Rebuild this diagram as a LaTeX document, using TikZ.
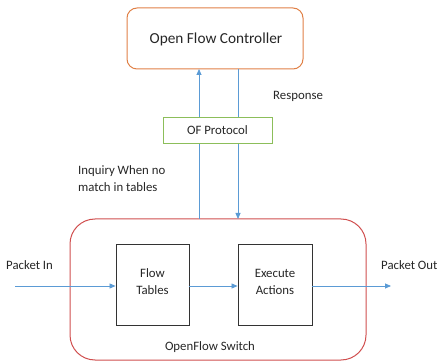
\documentclass[tikz,border=0pt]{standalone}
\usepackage{fontspec}
\setmainfont{Carlito}
\usetikzlibrary{arrows.meta}
\definecolor{ctrl}{RGB}{224,128,70}
\definecolor{proto}{RGB}{140,190,90}
\definecolor{sw}{RGB}{208,78,78}
\definecolor{flow}{RGB}{91,155,213}
\begin{document}
\begin{tikzpicture}[x=1pt,y=-1pt,
  lbl/.style={font=\fontsize{12.8}{15}\selectfont, text=black!85},
  blk/.style={draw=black!80, line width=0.9pt, fill=white},
  conn/.style={draw=flow, line width=0.8pt, -{Triangle[length=6pt,width=5pt]}}]
\useasboundingbox (0,0) rectangle (439,363);
% boxes
\draw[ctrl, line width=1pt, rounded corners=10pt] (127,8) rectangle (303,69);
\node[font=\fontsize{15.3}{18}\selectfont, text=black!85] (ctrl) at (216,39) {Open Flow Controller};
\coordinate (cb1) at (199,69);
\coordinate (cb2) at (238,69);
\draw[sw, line width=1pt, rounded corners=25pt] (70,219) rectangle (366,360);
\coordinate (st1) at (199,219);
\coordinate (st2) at (238,219);
% vertical arrows
\draw[conn] (st1) -- (cb1);
\draw[conn] (cb2) -- (st2);
\node[draw=proto, line width=0.9pt, fill=white, minimum width=109pt, minimum height=26pt, inner sep=0pt, lbl] (of) at (217.5,130) {OF Protocol};
\node[lbl, anchor=west, inner sep=0pt] (resp) at (273,96) {Response};
\node[lbl, anchor=west, align=left, inner sep=0pt] (inq) at (78,178.5) {Inquiry When no\\[2pt]match in tables};
% inner blocks
\node[blk, minimum width=73pt, minimum height=81pt, inner sep=0pt] (ft) at (152.5,284.5) {};
\node[blk, minimum width=74pt, minimum height=81pt, inner sep=0pt] (ea) at (275,284.5) {};
\node[lbl, align=center, inner sep=0pt] (ftl) at (152.5,281.5) {Flow\\[2pt]Tables};
\node[lbl, align=center, inner sep=0pt] (eal) at (275,281.5) {Execute\\[2pt]Actions};
\node[lbl] (sw) at (210,347) {OpenFlow Switch};
\node[lbl, anchor=west, inner sep=0pt] (pin) at (6,265) {Packet In};
\node[lbl, anchor=west, inner sep=0pt] (pout) at (381,265) {Packet Out};
\coordinate (inS) at (15,286);
\coordinate (outE) at (391,286);
\draw[conn] (inS) -- (ft.west |- inS);
\draw[conn] (ft.east |- inS) -- (ea.west |- inS);
\draw[conn] (ea.east |- inS) -- (outE);
\end{tikzpicture}
\end{document}
